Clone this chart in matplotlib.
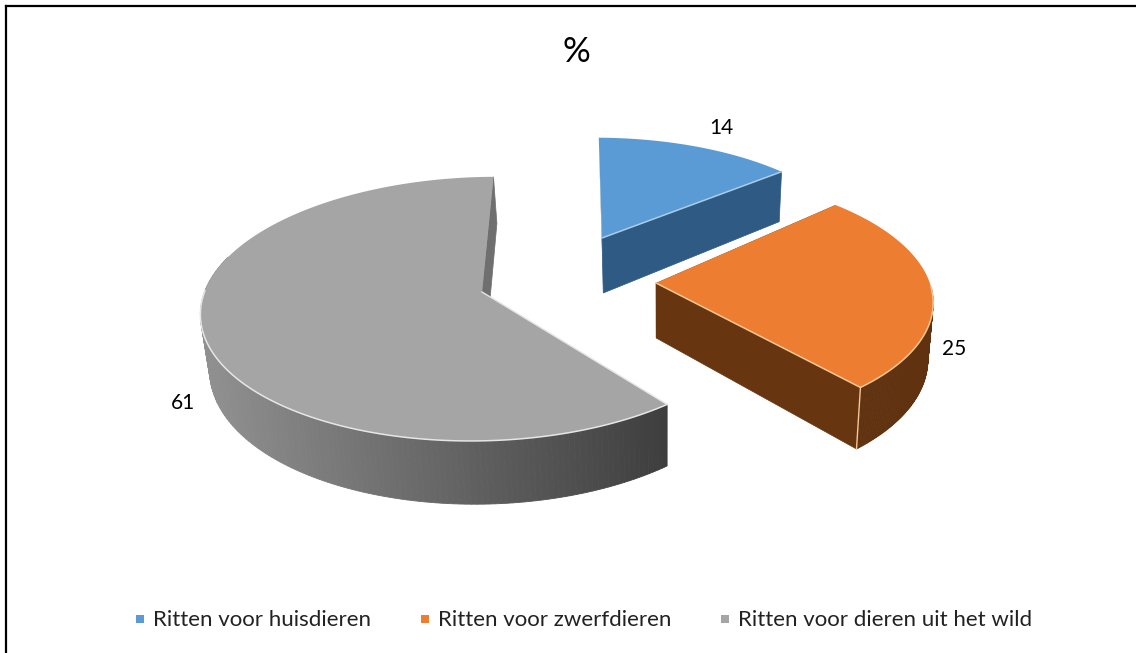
"""Exploded 3D pie (ritten per diergroep), drawn by hand since matplotlib has no 3D pie."""
import numpy as np
import matplotlib
matplotlib.use("Agg", force=True)
import matplotlib.pyplot as plt

plt.rcParams["font.family"] = ["Lato", "DejaVu Sans"]

TITLE = "%"
categories = ["Ritten voor huisdieren", "Ritten voor zwerfdieren", "Ritten voor dieren uit het wild"]
values = [14, 25, 61]

START_DEG = 2.0
PERSP = 0.128     # front of the disc is drawn bigger than the back
THICK = 55.0
THICK_PERSP = 0.15
VANISH_X = 665.0
VANISH = 0.02

# apex x, apex y, a, b, skew y, skew x
GEOM = [
    (602, 238, 255, 115, -2, 11),
    (656, 283, 270, 126, -9, 29),
    (482, 292, 279, 132, -4.5, -3),
]
TOP_COL = ["#5b9bd5", "#ed7d31", "#a5a5a5"]
FACE_COL = ["#2f5a84", "#673510", "#6f6f6f"]
EDGE_COL = ["#a9cdea", "#f8c796", "#e6e6e6"]
RIM_LIMIT = [0.3, -0.1, 0.3]   # rim only where it faces the viewer
LABEL_POS = [(721, 128), (954, 349), (183, 403)]
LEGEND_X = [153, 438, 738]


def project(theta, r, g):
    """theta clockwise from top, r in 0..1, returns top-surface and bottom-surface points."""
    ax_, ay_, a, b, s, t = g
    u = r * np.sin(theta)
    v = -r * np.cos(theta)
    x = ax_ + a * u * (1 + PERSP * v) + t * v
    y = ay_ + b * v * (1 + PERSP * v) + s * u
    xb = x + (VANISH_X - x) * VANISH
    yb = y + THICK * (1 + THICK_PERSP * v)
    return x, y, xb, yb


def rim_colour(i, x):
    if i == 2:
        f = np.clip((x - 205) / (668 - 205), 0, 1)
        return np.array([0x90, 0x90, 0x90]) / 255 * (1 - f) + np.array([0x3e, 0x3e, 0x3e]) / 255 * f
    if i == 1:
        return np.array([0x60, 0x32, 0x10]) / 255
    return np.array([0x2f, 0x5a, 0x84]) / 255


fig = plt.figure(figsize=(11.36, 6.53), dpi=100)
ax = fig.add_axes([0, 0, 1, 1])
ax.set_xlim(0, 1136)
ax.set_ylim(653, 0)
ax.axis("off")

fracs = np.array(values, dtype=float) / sum(values)
edges = np.radians(START_DEG + 360 * np.concatenate([[0], np.cumsum(fracs)]))

for i in (0, 2, 1):
    g = GEOM[i]
    th0, th1 = edges[i], edges[i + 1]
    th = np.linspace(th0, th1, 200)
    x, y, xb, yb = project(th, 1.0, g)
    x0, y0, xb0, yb0 = project(0.0, 0.0, g)

    # cut faces first, then rim, top surface on top of them
    if i == 2:
        # grey back face only shows as a thin sliver
        ax.fill([x0, x[0], x[0] + (xb[0] - x[0]) * 0.45, x0 + (xb0 - x0) * 0.45],
                [y0, y[0], yb[0], yb0], color="#8c8c8c", lw=0, zorder=2)
    else:
        ax.fill([x0, x[0], xb[0], xb0], [y0, y[0], yb[0], yb0], color=FACE_COL[i], lw=0, zorder=2)
    ax.fill([x0, x[-1], xb[-1], xb0], [y0, y[-1], yb[-1], yb0], color=FACE_COL[i], lw=0.5, zorder=2)
    for k in range(len(th) - 1):
        if np.cos(th[k]) > RIM_LIMIT[i]:
            continue
        ax.fill([x[k], x[k + 1], xb[k + 1], xb[k]], [y[k], y[k + 1], yb[k + 1], yb[k]],
                color=rim_colour(i, x[k]), lw=0.6, zorder=3)
    ax.fill(np.r_[x0, x], np.r_[y0, y], color=TOP_COL[i], lw=0, zorder=4)

    # pale bevel lines along the front edges
    front = np.cos(th) < min(RIM_LIMIT[i], 0.05)
    ax.plot(x[front], y[front], color=EDGE_COL[i], lw=1.1, zorder=5, solid_capstyle="round")
    if i < 2:
        ax.plot([x0, x[-1]], [y0, y[-1]], color=EDGE_COL[i], lw=1.1, zorder=5)
    else:
        ax.plot([x0, x[0]], [y0, y[0]], color=EDGE_COL[i], lw=1.0, zorder=5)
    if i == 1:
        ax.plot([x[-1], xb[-1]], [y[-1], yb[-1]], color=EDGE_COL[i], lw=1.0, zorder=5)

for v, (lx, ly) in zip(values, LABEL_POS):
    ax.text(lx, ly, str(v), ha="center", va="center", fontsize=15, color="black", zorder=6)

ax.text(576, 52, TITLE, ha="center", va="center", fontsize=25, color="black")

for cat, lx, c in zip(categories, LEGEND_X, TOP_COL):
    ax.plot([lx - 13], [619], marker="s", ms=5.5, color=c, mew=0, ls="none")
    ax.text(lx, 620, cat, ha="left", va="center", fontsize=16, color="#222222")

# chart border: only top and left survive in the crop
ax.plot([6, 6], [653, 6], color="black", lw=1.6, clip_on=False, solid_capstyle="projecting")
ax.plot([6, 1136], [6, 6], color="black", lw=1.6, clip_on=False, solid_capstyle="projecting")

fig.savefig("out.png", dpi=100)
